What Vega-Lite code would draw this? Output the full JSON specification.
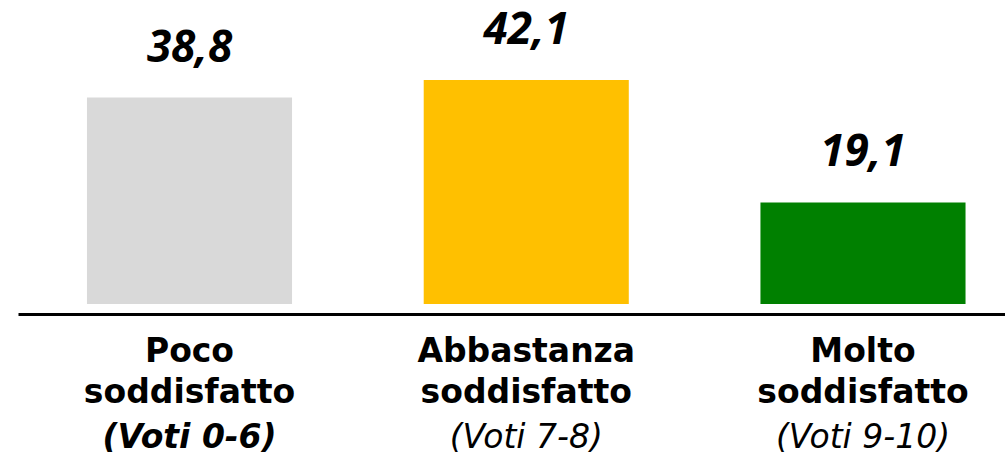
{
  "$schema": "https://vega.github.io/schema/vega-lite/v6.json",
  "width": 987,
  "height": 266,
  "autosize": {"type": "none"},
  "padding": {"left": 18, "top": 38, "right": 0, "bottom": 152},
  "background": "white",
  "config": {
    "view": {"stroke": null},
    "locale": {"number": {"decimal": ",", "thousands": ".", "grouping": [3], "currency": ["", " €"]}}
  },
  "data": {
    "values": [
      {"cat": "Poco", "value": 38.8, "l1": "Poco", "l2": "soddisfatto", "l3": "(Voti 0-6)"},
      {"cat": "Abbastanza", "value": 42.1, "l1": "Abbastanza", "l2": "soddisfatto", "l3": "(Voti 7-8)"},
      {"cat": "Molto", "value": 19.1, "l1": "Molto", "l2": "soddisfatto", "l3": "(Voti 9-10)"}
    ]
  },
  "layer": [
    {
      "mark": {"type": "bar"},
      "encoding": {
        "x": {
          "field": "cat",
          "type": "nominal",
          "sort": null,
          "scale": {"paddingInner": 0.391, "paddingOuter": 0.161, "align": 0.636},
          "axis": {"title": null, "labels": false, "ticks": false, "domain": true, "domainColor": "#000000", "domainWidth": 3, "offset": 10, "grid": false}
        },
        "y": {"field": "value", "type": "quantitative", "scale": {"domain": [0, 50]}, "axis": null},
        "color": {"field": "cat", "type": "nominal", "scale": {"domain": ["Poco", "Abbastanza", "Molto"], "range": ["#d9d9d9", "#ffc000", "#008000"]}, "legend": null}
      }
    },
    {
      "mark": {"type": "text", "font": "Open Sans", "fontWeight": "bold", "fontStyle": "italic", "fontSize": 44, "baseline": "alphabetic", "dy": -36, "color": "#000000"},
      "encoding": {
        "x": {"field": "cat", "type": "nominal", "sort": null},
        "y": {"field": "value", "type": "quantitative"},
        "text": {"field": "value", "type": "quantitative", "format": ".1f"}
      }
    },
    {
      "mark": {"type": "text", "font": "DejaVu Sans", "fontWeight": "bold", "fontSize": 33, "baseline": "alphabetic", "dy": 58, "color": "#000000"},
      "encoding": {
        "x": {"field": "cat", "type": "nominal", "sort": null},
        "y": {"datum": 0, "type": "quantitative"},
        "text": {"field": "l1"}
      }
    },
    {
      "mark": {"type": "text", "font": "DejaVu Sans", "fontWeight": "bold", "fontSize": 33, "baseline": "alphabetic", "dy": 99, "color": "#000000"},
      "encoding": {
        "x": {"field": "cat", "type": "nominal", "sort": null},
        "y": {"datum": 0, "type": "quantitative"},
        "text": {"field": "l2"}
      }
    },
    {
      "transform": [{"filter": "datum.cat === 'Poco'"}],
      "mark": {"type": "text", "font": "DejaVu Sans", "fontWeight": "bold", "fontStyle": "italic", "fontSize": 33, "baseline": "alphabetic", "dy": 144, "color": "#000000"},
      "encoding": {
        "x": {"field": "cat", "type": "nominal", "sort": null},
        "y": {"datum": 0, "type": "quantitative"},
        "text": {"field": "l3"}
      }
    },
    {
      "transform": [{"filter": "datum.cat !== 'Poco'"}],
      "mark": {"type": "text", "font": "DejaVu Sans", "fontWeight": "normal", "fontStyle": "italic", "fontSize": 33, "baseline": "alphabetic", "dy": 144, "color": "#000000"},
      "encoding": {
        "x": {"field": "cat", "type": "nominal", "sort": null},
        "y": {"datum": 0, "type": "quantitative"},
        "text": {"field": "l3"}
      }
    }
  ]
}
